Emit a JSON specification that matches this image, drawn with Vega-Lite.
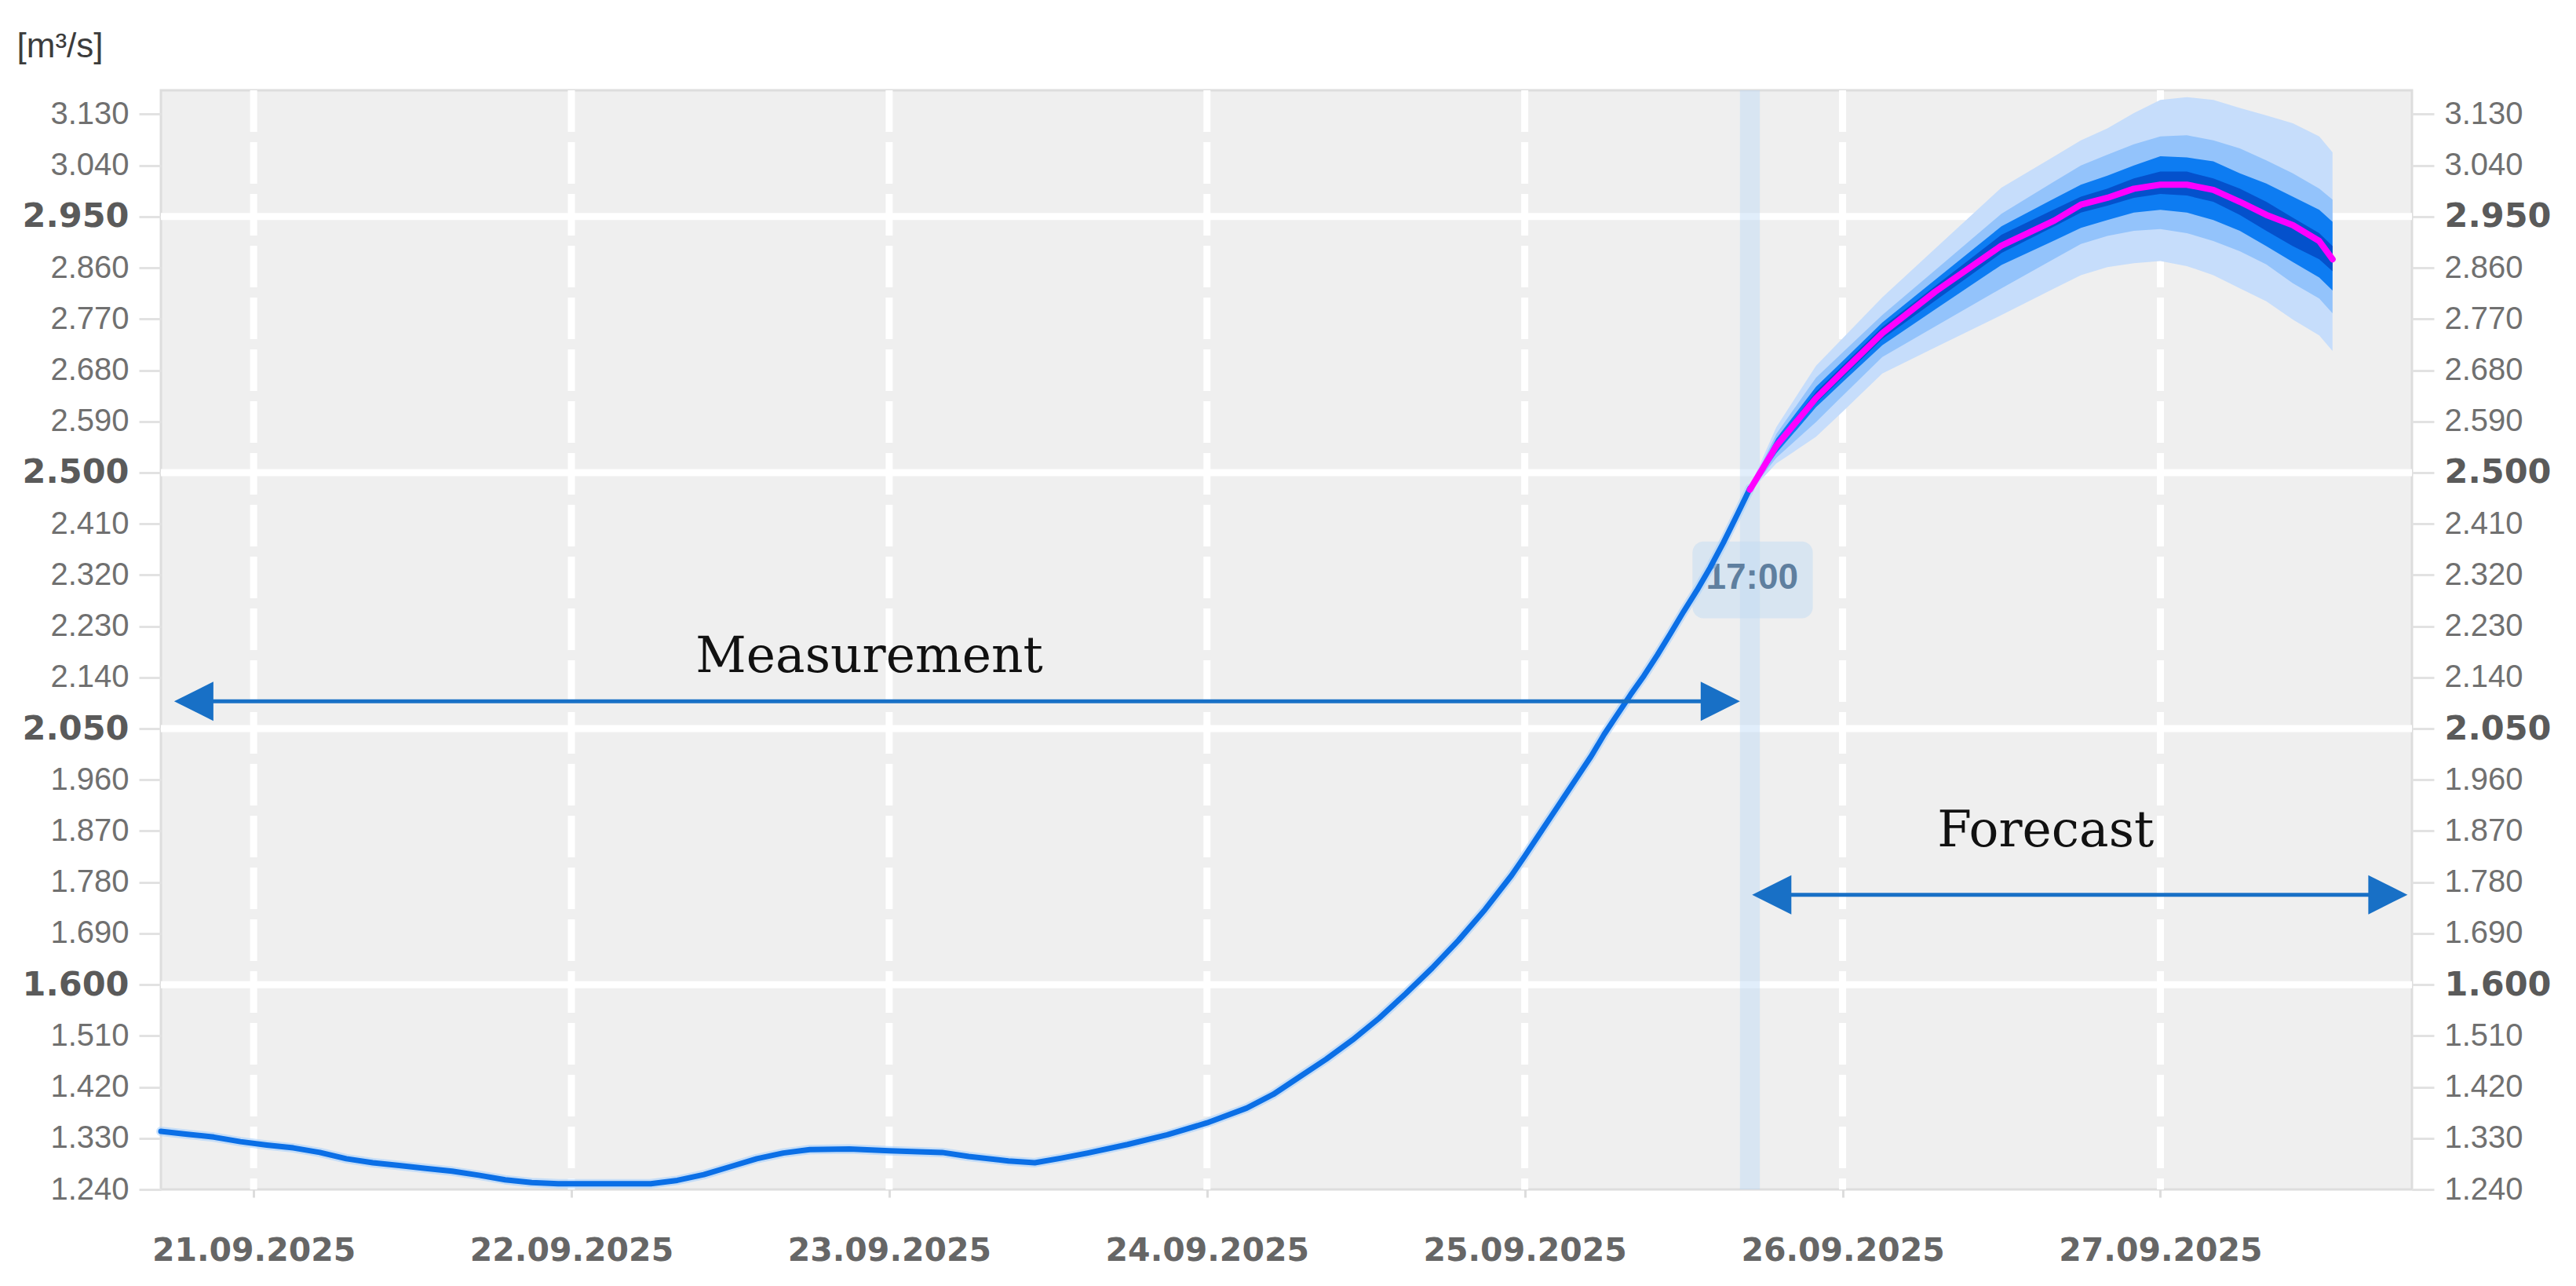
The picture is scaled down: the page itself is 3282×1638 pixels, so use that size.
{
  "$schema": "https://vega.github.io/schema/vega-lite/v6.json",
  "width": 2868,
  "height": 1400,
  "autosize": {"type": "none"},
  "padding": {"left": 205, "top": 115, "right": 209, "bottom": 123},
  "background": "#ffffff",
  "config": {"view": {"fill": "#efefef", "stroke": "#dddddd", "strokeWidth": 3}},
  "datasets": {
    "hgrid": [{"v": 1600}, {"v": 2050}, {"v": 2500}, {"v": 2950}],
    "days": [{"t": "2025-09-21T00:00"}, {"t": "2025-09-22T00:00"}, {"t": "2025-09-23T00:00"}, {"t": "2025-09-24T00:00"}, {"t": "2025-09-25T00:00"}, {"t": "2025-09-26T00:00"}, {"t": "2025-09-27T00:00"}],
    "meas": [
      {"t": "2025-09-20T17:00", "v": 1342}, {"t": "2025-09-20T19:00", "v": 1337}, {"t": "2025-09-20T21:00", "v": 1332}, {"t": "2025-09-20T23:00", "v": 1324},
      {"t": "2025-09-21T01:00", "v": 1318}, {"t": "2025-09-21T03:00", "v": 1313}, {"t": "2025-09-21T05:00", "v": 1305},
      {"t": "2025-09-21T07:00", "v": 1294}, {"t": "2025-09-21T09:00", "v": 1287}, {"t": "2025-09-21T11:00", "v": 1282},
      {"t": "2025-09-21T13:00", "v": 1277}, {"t": "2025-09-21T15:00", "v": 1272}, {"t": "2025-09-21T17:00", "v": 1265},
      {"t": "2025-09-21T19:00", "v": 1257}, {"t": "2025-09-21T21:00", "v": 1252}, {"t": "2025-09-21T23:00", "v": 1250},
      {"t": "2025-09-22T06:00", "v": 1250}, {"t": "2025-09-22T08:00", "v": 1256}, {"t": "2025-09-22T10:00", "v": 1266},
      {"t": "2025-09-22T12:00", "v": 1280}, {"t": "2025-09-22T14:00", "v": 1294}, {"t": "2025-09-22T16:00", "v": 1304},
      {"t": "2025-09-22T18:00", "v": 1310}, {"t": "2025-09-22T21:00", "v": 1311}, {"t": "2025-09-23T00:00", "v": 1308},
      {"t": "2025-09-23T04:00", "v": 1305}, {"t": "2025-09-23T06:00", "v": 1298}, {"t": "2025-09-23T09:00", "v": 1290},
      {"t": "2025-09-23T11:00", "v": 1287}, {"t": "2025-09-23T13:00", "v": 1295}, {"t": "2025-09-23T15:00", "v": 1304},
      {"t": "2025-09-23T18:00", "v": 1319}, {"t": "2025-09-23T21:00", "v": 1336}, {"t": "2025-09-24T00:00", "v": 1357},
      {"t": "2025-09-24T03:00", "v": 1383}, {"t": "2025-09-24T05:00", "v": 1407}, {"t": "2025-09-24T07:00", "v": 1438},
      {"t": "2025-09-24T09:00", "v": 1469}, {"t": "2025-09-24T11:00", "v": 1503}, {"t": "2025-09-24T13:00", "v": 1541},
      {"t": "2025-09-24T15:00", "v": 1584}, {"t": "2025-09-24T17:00", "v": 1629}, {"t": "2025-09-24T19:00", "v": 1678},
      {"t": "2025-09-24T21:00", "v": 1732}, {"t": "2025-09-24T23:00", "v": 1792}, {"t": "2025-09-25T00:00", "v": 1826},
      {"t": "2025-09-25T01:00", "v": 1861}, {"t": "2025-09-25T02:00", "v": 1896}, {"t": "2025-09-25T03:00", "v": 1931},
      {"t": "2025-09-25T04:00", "v": 1966}, {"t": "2025-09-25T05:00", "v": 2001}, {"t": "2025-09-25T06:00", "v": 2040},
      {"t": "2025-09-25T07:00", "v": 2075}, {"t": "2025-09-25T08:00", "v": 2110}, {"t": "2025-09-25T09:00", "v": 2143},
      {"t": "2025-09-25T10:00", "v": 2179}, {"t": "2025-09-25T11:00", "v": 2217}, {"t": "2025-09-25T12:00", "v": 2256},
      {"t": "2025-09-25T13:00", "v": 2293}, {"t": "2025-09-25T14:00", "v": 2333}, {"t": "2025-09-25T15:00", "v": 2377},
      {"t": "2025-09-25T16:00", "v": 2424}, {"t": "2025-09-25T17:00", "v": 2472}
    ],
    "fc": [
      {"t": "2025-09-25T17:00", "oL": 2466, "L2": 2467, "L3": 2468, "dL": 2469, "m": 2470, "dU": 2471, "U3": 2472, "U2": 2473, "oU": 2475},
      {"t": "2025-09-25T19:00", "oL": 2516, "L2": 2526, "L3": 2534, "dL": 2541, "m": 2547, "dU": 2553, "U3": 2560, "U2": 2568, "oU": 2580},
      {"t": "2025-09-25T22:00", "oL": 2563, "L2": 2589, "L3": 2615, "dL": 2622, "m": 2631, "dU": 2642, "U3": 2651, "U2": 2667, "oU": 2688},
      {"t": "2025-09-26T00:00", "oL": 2607, "L2": 2635, "L3": 2659, "dL": 2667, "m": 2677, "dU": 2688, "U3": 2696, "U2": 2711, "oU": 2736},
      {"t": "2025-09-26T03:00", "oL": 2674, "L2": 2703, "L3": 2724, "dL": 2735, "m": 2745, "dU": 2756, "U3": 2764, "U2": 2777, "oU": 2808},
      {"t": "2025-09-26T07:00", "oL": 2720, "L2": 2757, "L3": 2787, "dL": 2802, "m": 2818, "dU": 2828, "U3": 2839, "U2": 2856, "oU": 2894},
      {"t": "2025-09-26T12:00", "oL": 2777, "L2": 2824, "L3": 2865, "dL": 2886, "m": 2899, "dU": 2918, "U3": 2933, "U2": 2955, "oU": 3001},
      {"t": "2025-09-26T16:00", "oL": 2824, "L2": 2876, "L3": 2908, "dL": 2933, "m": 2943, "dU": 2963, "U3": 2982, "U2": 3012, "oU": 3056},
      {"t": "2025-09-26T18:00", "oL": 2847, "L2": 2902, "L3": 2930, "dL": 2957, "m": 2971, "dU": 2985, "U3": 3006, "U2": 3040, "oU": 3084},
      {"t": "2025-09-26T20:00", "oL": 2861, "L2": 2916, "L3": 2944, "dL": 2969, "m": 2983, "dU": 2999, "U3": 3022, "U2": 3059, "oU": 3105},
      {"t": "2025-09-26T22:00", "oL": 2868, "L2": 2925, "L3": 2957, "dL": 2983, "m": 2999, "dU": 3017, "U3": 3040, "U2": 3077, "oU": 3132},
      {"t": "2025-09-27T00:00", "oL": 2872, "L2": 2928, "L3": 2962, "dL": 2990, "m": 3006, "dU": 3029, "U3": 3056, "U2": 3091, "oU": 3155},
      {"t": "2025-09-27T02:00", "oL": 2863, "L2": 2921, "L3": 2957, "dL": 2987, "m": 3006, "dU": 3029, "U3": 3054, "U2": 3093, "oU": 3160},
      {"t": "2025-09-27T04:00", "oL": 2847, "L2": 2907, "L3": 2944, "dL": 2976, "m": 2997, "dU": 3017, "U3": 3047, "U2": 3084, "oU": 3155},
      {"t": "2025-09-27T06:00", "oL": 2824, "L2": 2889, "L3": 2925, "dL": 2953, "m": 2976, "dU": 2999, "U3": 3026, "U2": 3070, "oU": 3141},
      {"t": "2025-09-27T08:00", "oL": 2801, "L2": 2866, "L3": 2898, "dL": 2925, "m": 2953, "dU": 2976, "U3": 3008, "U2": 3049, "oU": 3128},
      {"t": "2025-09-27T10:00", "oL": 2769, "L2": 2833, "L3": 2870, "dL": 2898, "m": 2935, "dU": 2948, "U3": 2985, "U2": 3026, "oU": 3114},
      {"t": "2025-09-27T12:00", "oL": 2741, "L2": 2806, "L3": 2843, "dL": 2875, "m": 2907, "dU": 2921, "U3": 2962, "U2": 2999, "oU": 3091},
      {"t": "2025-09-27T13:00", "oL": 2714, "L2": 2780, "L3": 2820, "dL": 2854, "m": 2875, "dU": 2898, "U3": 2941, "U2": 2980, "oU": 3063}
    ]
  },
  "layer": [
    {
      "data": {"name": "hgrid"},
      "mark": {"type": "rule", "color": "#ffffff", "strokeWidth": 9},
      "encoding": {
        "y": {"field": "v", "type": "quantitative", "scale": {"domain": [1240, 3172], "nice": false, "zero": false},
          "axis": {"orient": "right", "title": null, "values": [1240, 1330, 1420, 1510, 1600, 1690, 1780, 1870, 1960, 2050, 2140, 2230, 2320, 2410, 2500, 2590, 2680, 2770, 2860, 2950, 3040, 3130],
            "domain": false, "grid": false, "ticks": true, "tickSize": 28, "tickColor": "#e2e2e2", "tickWidth": 3, "labelPadding": 13, "labelOverlap": false, "labelLimit": 0,
            "labelExpr": "replace(format(datum.value, ',d'), ',', '.')",
            "labelFont": {"condition": {"test": "datum.value % 450 === 250", "value": "DejaVu Sans"}, "value": "Liberation Sans"},
            "labelFontSize": {"condition": {"test": "datum.value % 450 === 250", "value": 43}, "value": 40},
            "labelFontWeight": {"condition": {"test": "datum.value % 450 === 250", "value": "bold"}, "value": "normal"},
            "labelColor": {"condition": {"test": "datum.value % 450 === 250", "value": "#5a5a5a"}, "value": "#707070"}}}
      }
    },
    {
      "layer": [
        {
          "data": {"name": "days"},
          "mark": {"type": "rule", "color": "#ffffff", "strokeWidth": 9, "strokeDash": [53, 13]},
          "encoding": {
            "x": {"field": "t", "type": "temporal",
              "scale": {"domain": [{"year": 2025, "month": 9, "date": 20, "hours": 17}, {"year": 2025, "month": 9, "date": 27, "hours": 19}], "nice": false},
              "axis": {"values": [
                  {"year": 2025, "month": 9, "date": 21}, {"year": 2025, "month": 9, "date": 22}, {"year": 2025, "month": 9, "date": 23},
                  {"year": 2025, "month": 9, "date": 24}, {"year": 2025, "month": 9, "date": 25}, {"year": 2025, "month": 9, "date": 26},
                  {"year": 2025, "month": 9, "date": 27}],
                "format": "%d.%m.%Y", "formatType": "time", "title": null, "domain": false, "grid": false,
                "ticks": true, "tickSize": 10, "tickColor": "#dddddd", "tickWidth": 3, "labelPadding": 48,
                "labelFont": "DejaVu Sans", "labelFontWeight": "bold", "labelFontSize": 41, "labelColor": "#666666",
                "labelOverlap": false, "labelFlush": false, "labelLimit": 0}}
          }
        },
        {
          "data": {"name": "fc"},
          "mark": {"type": "area", "color": "#c6ddfb", "opacity": 1},
          "encoding": {
            "x": {"field": "t", "type": "temporal"},
            "y": {"field": "oL", "type": "quantitative", "scale": {"domain": [1240, 3172], "nice": false, "zero": false},
              "axis": {"orient": "left", "values": [1240, 1330, 1420, 1510, 1600, 1690, 1780, 1870, 1960, 2050, 2140, 2230, 2320, 2410, 2500, 2590, 2680, 2770, 2860, 2950, 3040, 3130],
                "title": "[m³/s]", "titleAngle": 0, "titleAlign": "left", "titleBaseline": "middle", "titleX": -184, "titleY": -56,
                "titleFont": "Liberation Sans", "titleFontSize": 44, "titleFontWeight": "normal", "titleColor": "#3c3c3c", "titleLimit": 0,
                "domain": false, "grid": false, "ticks": true, "tickSize": 28, "tickColor": "#e2e2e2", "tickWidth": 3, "labelPadding": 13, "labelOverlap": false, "labelLimit": 0,
                "labelExpr": "replace(format(datum.value, ',d'), ',', '.')",
                "labelFont": {"condition": {"test": "datum.value % 450 === 250", "value": "DejaVu Sans"}, "value": "Liberation Sans"},
                "labelFontSize": {"condition": {"test": "datum.value % 450 === 250", "value": 43}, "value": 40},
                "labelFontWeight": {"condition": {"test": "datum.value % 450 === 250", "value": "bold"}, "value": "normal"},
                "labelColor": {"condition": {"test": "datum.value % 450 === 250", "value": "#5a5a5a"}, "value": "#707070"}}},
            "y2": {"field": "oU"}
          }
        },
        {
          "data": {"name": "fc"},
          "mark": {"type": "area", "color": "#93c3fb", "opacity": 1},
          "encoding": {
            "x": {"field": "t", "type": "temporal"},
            "y": {"field": "L2", "type": "quantitative", "scale": {"domain": [1240, 3172], "nice": false, "zero": false}},
            "y2": {"field": "U2"}
          }
        },
        {
          "data": {"name": "fc"},
          "mark": {"type": "area", "color": "#0d7cf2", "opacity": 1},
          "encoding": {
            "x": {"field": "t", "type": "temporal"},
            "y": {"field": "L3", "type": "quantitative", "scale": {"domain": [1240, 3172], "nice": false, "zero": false}},
            "y2": {"field": "U3"}
          }
        },
        {
          "data": {"name": "fc"},
          "mark": {"type": "area", "color": "#0451cc", "opacity": 1},
          "encoding": {
            "x": {"field": "t", "type": "temporal"},
            "y": {"field": "dL", "type": "quantitative", "scale": {"domain": [1240, 3172], "nice": false, "zero": false}},
            "y2": {"field": "dU"}
          }
        },
        {
          "data": {"values": [{"t": "2025-09-25T16:15", "t2": "2025-09-25T17:45"}]},
          "mark": {"type": "rect", "color": "#bcd9f7", "opacity": 0.45},
          "encoding": {
            "x": {"field": "t", "type": "temporal"},
            "x2": {"field": "t2"}
          }
        },
        {
          "data": {"values": [{"t": "2025-09-25T12:40", "t2": "2025-09-25T21:45", "v": 2244, "v2": 2379}]},
          "mark": {"type": "rect", "color": "#c5dcf3", "opacity": 0.55, "cornerRadius": 14},
          "encoding": {
            "x": {"field": "t", "type": "temporal"},
            "x2": {"field": "t2"},
            "y": {"field": "v", "type": "quantitative", "scale": {"domain": [1240, 3172], "nice": false, "zero": false}},
            "y2": {"field": "v2"}
          }
        },
        {
          "data": {"values": [{"t": "2025-09-25T17:10", "v": 2315, "label": "17:00"}]},
          "mark": {"type": "text", "font": "Liberation Sans", "fontWeight": "bold", "fontSize": 46, "color": "#5f7f9f", "align": "center", "baseline": "middle"},
          "encoding": {
            "x": {"field": "t", "type": "temporal"},
            "y": {"field": "v", "type": "quantitative", "scale": {"domain": [1240, 3172], "nice": false, "zero": false}},
            "text": {"field": "label"}
          }
        },
        {
          "data": {"name": "meas"},
          "mark": {"type": "line", "color": "#a9d0fb", "strokeWidth": 12, "opacity": 0.6, "strokeJoin": "round", "strokeCap": "round"},
          "encoding": {
            "x": {"field": "t", "type": "temporal"},
            "y": {"field": "v", "type": "quantitative", "scale": {"domain": [1240, 3172], "nice": false, "zero": false}}
          }
        },
        {
          "data": {"name": "meas"},
          "mark": {"type": "line", "color": "#0b6fe6", "strokeWidth": 7, "strokeJoin": "round", "strokeCap": "round"},
          "encoding": {
            "x": {"field": "t", "type": "temporal"},
            "y": {"field": "v", "type": "quantitative", "scale": {"domain": [1240, 3172], "nice": false, "zero": false}}
          }
        },
        {
          "data": {"name": "fc"},
          "mark": {"type": "line", "color": "#ff00ff", "strokeWidth": 8, "strokeJoin": "round", "strokeCap": "round"},
          "encoding": {
            "x": {"field": "t", "type": "temporal"},
            "y": {"field": "m", "type": "quantitative", "scale": {"domain": [1240, 3172], "nice": false, "zero": false}}
          }
        },
        {
          "data": {"values": [
            {"t": "2025-09-20T19:30", "t2": "2025-09-25T14:45", "v": 2098},
            {"t": "2025-09-25T18:40", "t2": "2025-09-27T17:10", "v": 1758}]},
          "mark": {"type": "rule", "color": "#1870c6", "strokeWidth": 5},
          "encoding": {
            "x": {"field": "t", "type": "temporal"},
            "x2": {"field": "t2"},
            "y": {"field": "v", "type": "quantitative", "scale": {"domain": [1240, 3172], "nice": false, "zero": false}}
          }
        },
        {
          "data": {"values": [{"t": "2025-09-25T16:15", "v": 2098}, {"t": "2025-09-27T18:40", "v": 1758}]},
          "mark": {"type": "point", "shape": "M-2,-1L0,0L-2,1Z", "size": 2500, "filled": true, "color": "#1870c6", "opacity": 1, "strokeWidth": 0},
          "encoding": {
            "x": {"field": "t", "type": "temporal"},
            "y": {"field": "v", "type": "quantitative", "scale": {"domain": [1240, 3172], "nice": false, "zero": false}}
          }
        },
        {
          "data": {"values": [{"t": "2025-09-20T18:00", "v": 2098}, {"t": "2025-09-25T17:10", "v": 1758}]},
          "mark": {"type": "point", "shape": "M2,-1L0,0L2,1Z", "size": 2500, "filled": true, "color": "#1870c6", "opacity": 1, "strokeWidth": 0},
          "encoding": {
            "x": {"field": "t", "type": "temporal"},
            "y": {"field": "v", "type": "quantitative", "scale": {"domain": [1240, 3172], "nice": false, "zero": false}}
          }
        },
        {
          "data": {"values": [
            {"t": "2025-09-22T22:30", "v": 2175, "label": "Measurement"},
            {"t": "2025-09-26T15:20", "v": 1869, "label": "Forecast"}]},
          "mark": {"type": "text", "font": "DejaVu Serif", "fontSize": 63, "color": "#111111", "align": "center", "baseline": "middle"},
          "encoding": {
            "x": {"field": "t", "type": "temporal"},
            "y": {"field": "v", "type": "quantitative", "scale": {"domain": [1240, 3172], "nice": false, "zero": false}},
            "text": {"field": "label"}
          }
        }
      ]
    }
  ],
  "resolve": {"scale": {"y": "independent"}}
}
